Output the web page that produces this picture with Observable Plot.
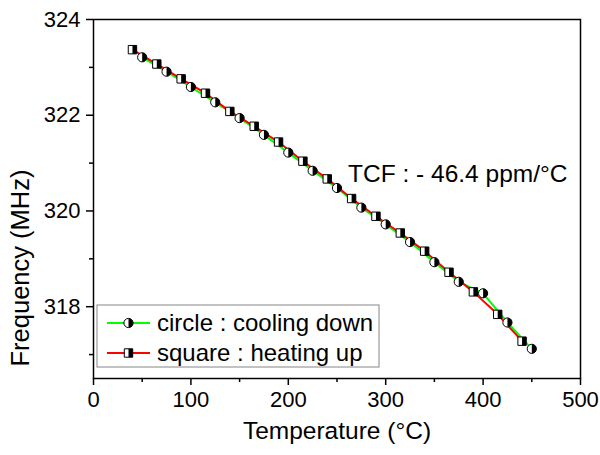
<!DOCTYPE html>
<html><head><meta charset="utf-8">
<script src="https://cdn.jsdelivr.net/npm/d3@7"></script>
<script src="https://cdn.jsdelivr.net/npm/@observablehq/plot@0.6"></script>
<style>
html,body{margin:0;padding:0;background:#fff}
svg{display:block}
</style>
</head><body><div id="chart"></div>
<script>
// ---- data ----
const coolT = [50,75,100,125,150,175,200,225,250,275,300,325,350,375,400,425,450];
const coolF = [323.21,322.91,322.59,322.27,321.94,321.59,321.22,320.84,320.48,320.07,319.72,319.35,318.93,318.52,318.28,317.67,317.12];
const heatT = [40,65,90,115,140,165,190,215,240,265,290,315,340,365,390,415,440];
const heatF = [323.37,323.07,322.76,322.46,322.08,321.77,321.44,321.04,320.67,320.26,319.89,319.54,319.16,318.72,318.31,317.84,317.28];
const xTicks = [0,100,200,300,400,500];
const xMinor = [50,150,250,350,450];
const yTicks = [318,320,322,324];
const yMinor = [317,319,321,323];
const seriesNames = ["circle : cooling down", "square : heating up"];
const seriesColors = ["#00ff00", "#ff0000"];
const annotation = "TCF : - 46.4 ppm/°C";
const xLabel = "Temperature (°C)";
const yLabel = "Frequency (MHz)";

const cooling = coolT.map((t,i)=>({t, f: coolF[i]}));
const heating = heatT.map((t,i)=>({t, f: heatF[i]}));

// ---- custom half-filled symbols ----
const rOf = size => Math.sqrt(size/Math.PI);
const circleFull = {draw(c,s){const r=rOf(s); c.moveTo(r,0); c.arc(0,0,r,0,2*Math.PI); c.closePath();}};
const circleRight = {draw(c,s){const r=rOf(s); c.moveTo(0,-r); c.arc(0,0,r,-Math.PI/2,Math.PI/2); c.closePath();}};
const squareFull = {draw(c,s){const r=rOf(s); c.moveTo(-r,-r); c.lineTo(r,-r); c.lineTo(r,r); c.lineTo(-r,r); c.closePath();}};
const squareRight = {draw(c,s){const r=rOf(s); c.moveTo(0,-r); c.lineTo(r,-r); c.lineTo(r,r); c.lineTo(0,r); c.closePath();}};

const FONT = "'Liberation Sans', Arial, Helvetica, sans-serif";

const plot = Plot.plot({
  width: 600,
  height: 455,
  marginLeft: 93,
  marginRight: 20,
  marginTop: 19,
  marginBottom: 77,
  style: {fontFamily: FONT, fontSize: "22px", color: "#000", background: "#fff"},
  x: {domain: [0, 500], axis: null},
  y: {domain: [316.5, 324], axis: null},
  marks: [
    Plot.axisX(xTicks, {anchor: "bottom", tickSize: 7, tickPadding: 6, fontSize: 22, label: null, tickFormat: d => String(d), strokeWidth: 1.5}),
    Plot.axisX(xMinor, {anchor: "bottom", tickSize: 4, label: null, tickFormat: () => "", strokeWidth: 1.5}),
    Plot.axisY(yTicks, {anchor: "left", tickSize: 7, tickPadding: 6, fontSize: 22, label: null, tickFormat: d => String(d), strokeWidth: 1.5}),
    Plot.axisY(yMinor, {anchor: "left", tickSize: 4, label: null, tickFormat: () => "", strokeWidth: 1.5}),
    Plot.frame({stroke: "#000", strokeWidth: 1.5}),
    Plot.line(cooling, {x: "t", y: "f", stroke: seriesColors[0], strokeWidth: 2}),
    Plot.line(heating, {x: "t", y: "f", stroke: seriesColors[1], strokeWidth: 2}),
    Plot.dot(heating, {x: "t", y: "f", symbol: squareFull, r: 4.2, fill: "#fff", stroke: "#000", strokeWidth: 1}),
    Plot.dot(heating, {x: "t", y: "f", symbol: squareRight, r: 4.2, fill: "#000", stroke: "none"}),
    Plot.dot(cooling, {x: "t", y: "f", symbol: circleFull, r: 4.6, fill: "#fff", stroke: "#000", strokeWidth: 1}),
    Plot.dot(cooling, {x: "t", y: "f", symbol: circleRight, r: 4.6, fill: "#000", stroke: "none"}),
    Plot.text([annotation], {frameAnchor: "top-right", textAnchor: "end", dx: -13, dy: 145, fontSize: 24.5, fill: "#000"}),
    Plot.text([xLabel], {frameAnchor: "bottom", dy: 60, fontSize: 24.5, fill: "#000"})
  ]
});

document.getElementById("chart").appendChild(plot);

const xs = plot.scale("x").range, ys = plot.scale("y").range;
const svg = d3.select(plot);

// ---- y axis title (placed left of the frame, lower than centre as in the reference) ----
svg.append("text")
  .attr("transform", `translate(${xs[0] - 73},${ys[0] - 110}) rotate(-90)`)
  .attr("text-anchor", "middle").attr("dy", "0.35em")
  .attr("font-family", FONT).attr("font-size", 25.5).attr("fill", "#000")
  .text(yLabel);

// ---- legend inside the frame (bottom-left) ----
const lg = svg.append("g").attr("font-family", FONT);
const boxL = xs[0] + 4, boxB = ys[0] - 11;
lg.append("rect").attr("x", boxL).attr("y", boxB - 62).attr("width", 282).attr("height", 62)
  .attr("fill", "#fff").attr("stroke", "#9a9a9a").attr("stroke-width", 1.2);
const syms = [[circleFull, circleRight, 4.6], [squareFull, squareRight, 4.2]];
seriesNames.forEach((name, i) => {
  const cy = boxB - 62 + 18 + i * 30;
  const g = lg.append("g");
  g.append("line").attr("x1", boxL + 10).attr("x2", boxL + 53).attr("y1", cy).attr("y2", cy)
    .attr("stroke", seriesColors[i]).attr("stroke-width", 2);
  const [full, half, r] = syms[i];
  const size = Math.PI * r * r;
  g.append("path").attr("transform", `translate(${boxL + 31.5},${cy})`)
    .attr("d", d3.symbol(full, size)()).attr("fill", "#fff").attr("stroke", "#000").attr("stroke-width", 1);
  g.append("path").attr("transform", `translate(${boxL + 31.5},${cy})`)
    .attr("d", d3.symbol(half, size)()).attr("fill", "#000");
  g.append("text").attr("x", boxL + 60).attr("y", cy).attr("dy", "0.35em")
    .attr("text-anchor", "start")
    .attr("font-size", 24).attr("fill", "#000").text(name);
});
</script>
</body></html>
